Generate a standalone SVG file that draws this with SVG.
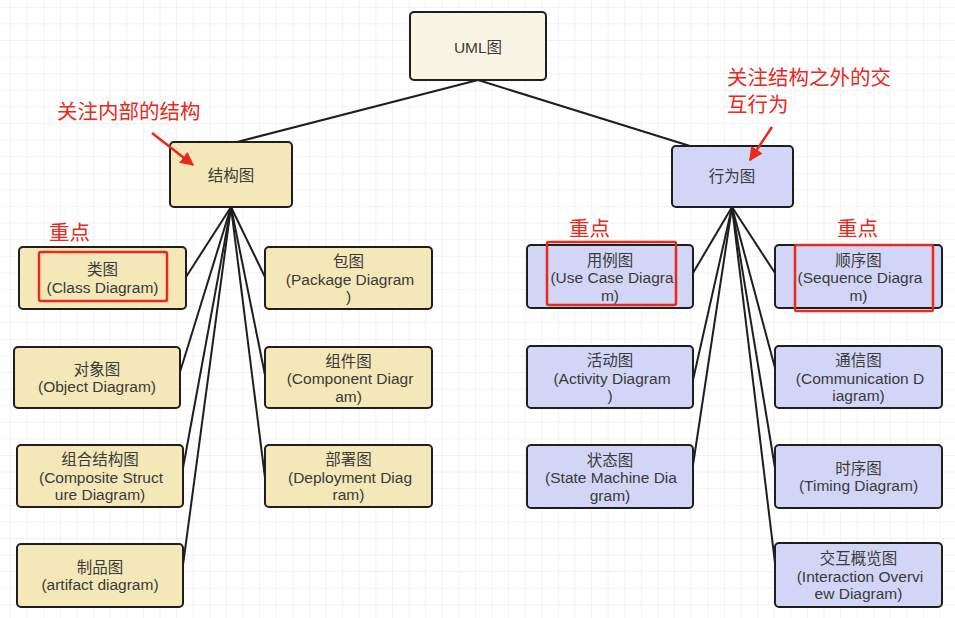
<svg xmlns="http://www.w3.org/2000/svg" width="955" height="618" viewBox="0 0 955 618">
<defs>
<pattern id="grid" x="10.1" y="6.8" width="16.6" height="16.6" patternUnits="userSpaceOnUse">
<path d="M0 0 H16.6 M0 0 V16.6" stroke="#e8e8e8" stroke-width="1" fill="none"/>
</pattern>
<marker id="redArrow" viewBox="0 0 10 10" refX="9" refY="5" markerWidth="5.5" markerHeight="5.5" orient="auto" markerUnits="strokeWidth">
<path d="M0 0 L10 5 L0 10 z" fill="#e8291c"/>
</marker>
<style>
.yel{fill:#f4e7b8;stroke:#1e1e1e;stroke-width:2}
.pur{fill:#d2d5f6;stroke:#1e1e1e;stroke-width:2}
.top{fill:#f8f5e4;stroke:#1e1e1e;stroke-width:2}
.t{font-family:"Liberation Sans","Noto Sans CJK SC",sans-serif;font-size:15.5px;fill:#3a3a3a;text-anchor:middle}
.r{font-family:"Liberation Sans","Noto Sans CJK SC",sans-serif;font-size:20.5px;fill:#e8291c}
.hl{fill:none;stroke:#e8291c;stroke-width:2.5}
.c{stroke:#1e1e1e;stroke-width:2;fill:none}
.ra{stroke:#e8291c;stroke-width:2.5;fill:none;marker-end:url(#redArrow)}
</style>
</defs>
<rect width="955" height="618" fill="#ffffff"/>
<rect width="955" height="618" fill="url(#grid)"/>

<g id="connectors">
<line class="c" x1="478" y1="80" x2="237" y2="142"/>
<line class="c" x1="478" y1="80" x2="690" y2="146"/>
<line class="c" x1="231" y1="207" x2="186" y2="277"/>
<line class="c" x1="231" y1="207" x2="265" y2="277"/>
<line class="c" x1="231" y1="207" x2="180" y2="372"/>
<line class="c" x1="231" y1="207" x2="265" y2="375"/>
<line class="c" x1="231" y1="207" x2="183" y2="468"/>
<line class="c" x1="231" y1="207" x2="265" y2="478"/>
<line class="c" x1="231" y1="207" x2="183" y2="565"/>
<line class="c" x1="732" y1="207" x2="693" y2="273"/>
<line class="c" x1="732" y1="207" x2="775" y2="273"/>
<line class="c" x1="732" y1="207" x2="693" y2="380"/>
<line class="c" x1="732" y1="207" x2="775" y2="368"/>
<line class="c" x1="732" y1="207" x2="693" y2="465"/>
<line class="c" x1="732" y1="207" x2="775" y2="468"/>
<line class="c" x1="732" y1="207" x2="775" y2="563"/>
</g>

<g id="uml">
<rect class="top" x="410" y="12" width="136" height="68" rx="4"/>
<text class="t" x="478" y="53">UML图</text>
</g>
<g id="structure">
<rect class="yel" x="170" y="142" width="122" height="65" rx="4"/>
<text class="t" x="231" y="181">结构图</text>
</g>
<g id="behavior">
<rect class="pur" x="672" y="146" width="121" height="61" rx="4"/>
<text class="t" x="732" y="182">行为图</text>
</g>

<g id="class">
<rect class="yel" x="19" y="247" width="167" height="62" rx="4"/>
<text class="t" x="102.5" y="275">类图</text>
<text class="t" x="102.5" y="292.5">(Class Diagram)</text>
</g>
<g id="package">
<rect class="yel" x="265" y="247" width="167" height="62" rx="4"/>
<text class="t" x="348.5" y="267">包图</text>
<text class="t" x="350" y="284.5">(Package Diagram</text>
<text class="t" x="348.5" y="302">)</text>
</g>
<g id="object">
<rect class="yel" x="14" y="347" width="166" height="61" rx="4"/>
<text class="t" x="97" y="374.5">对象图</text>
<text class="t" x="97" y="392">(Object Diagram)</text>
</g>
<g id="component">
<rect class="yel" x="265" y="347" width="167" height="61" rx="4"/>
<text class="t" x="348.5" y="366.5">组件图</text>
<text class="t" x="350" y="384">(Component Diagr</text>
<text class="t" x="348.5" y="401.5">am)</text>
</g>
<g id="composite">
<rect class="yel" x="17" y="445" width="166" height="62" rx="4"/>
<text class="t" x="100" y="465">组合结构图</text>
<text class="t" x="101" y="482.5">(Composite Struct</text>
<text class="t" x="100" y="500">ure Diagram)</text>
</g>
<g id="deployment">
<rect class="yel" x="265" y="445" width="167" height="62" rx="4"/>
<text class="t" x="348.5" y="465">部署图</text>
<text class="t" x="350" y="482.5">(Deployment Diag</text>
<text class="t" x="348.5" y="500">ram)</text>
</g>
<g id="artifact">
<rect class="yel" x="17" y="544" width="166" height="63" rx="4"/>
<text class="t" x="100" y="572.5">制品图</text>
<text class="t" x="100" y="590">(artifact diagram)</text>
</g>

<g id="usecase">
<rect class="pur" x="527" y="245" width="166" height="63" rx="4"/>
<text class="t" x="610" y="265.5">用例图</text>
<text class="t" x="612" y="283">(Use Case Diagra</text>
<text class="t" x="610" y="300.5">m)</text>
</g>
<g id="sequence">
<rect class="pur" x="775" y="245" width="167" height="63" rx="4"/>
<text class="t" x="858.5" y="265.5">顺序图</text>
<text class="t" x="860" y="283">(Sequence Diagra</text>
<text class="t" x="858.5" y="300.5">m)</text>
</g>
<g id="activity">
<rect class="pur" x="527" y="346" width="166" height="62" rx="4"/>
<text class="t" x="610" y="366">活动图</text>
<text class="t" x="612" y="383.5">(Activity Diagram</text>
<text class="t" x="610" y="401">)</text>
</g>
<g id="communication">
<rect class="pur" x="775" y="346" width="167" height="62" rx="4"/>
<text class="t" x="858.5" y="366">通信图</text>
<text class="t" x="860" y="383.5">(Communication D</text>
<text class="t" x="858.5" y="401">iagram)</text>
</g>
<g id="state">
<rect class="pur" x="527" y="445" width="166" height="63" rx="4"/>
<text class="t" x="610" y="465.5">状态图</text>
<text class="t" x="611" y="483">(State Machine Dia</text>
<text class="t" x="610" y="500.5">gram)</text>
</g>
<g id="timing">
<rect class="pur" x="775" y="445" width="167" height="63" rx="4"/>
<text class="t" x="858.5" y="473.5">时序图</text>
<text class="t" x="858.5" y="491">(Timing Diagram)</text>
</g>
<g id="interaction">
<rect class="pur" x="775" y="543" width="167" height="64" rx="4"/>
<text class="t" x="858.5" y="564">交互概览图</text>
<text class="t" x="860" y="581.5">(Interaction Overvi</text>
<text class="t" x="858.5" y="599">ew Diagram)</text>
</g>

<g id="annotations">
<text class="r" x="57" y="119">关注内部的结构</text>
<line class="ra" x1="152" y1="133" x2="193" y2="165"/>
<text class="r" x="727" y="85">关注结构之外的交</text>
<text class="r" x="727" y="112">互行为</text>
<line class="ra" x1="772" y1="127" x2="750" y2="160"/>
<text class="r" x="49" y="240">重点</text>
<rect class="hl" x="39" y="252" width="128" height="49" rx="2"/>
<text class="r" x="569" y="236">重点</text>
<rect class="hl" x="547" y="242" width="129" height="63" rx="2"/>
<text class="r" x="837" y="236">重点</text>
<rect class="hl" x="795" y="245" width="138" height="66" rx="2"/>
</g>
</svg>
